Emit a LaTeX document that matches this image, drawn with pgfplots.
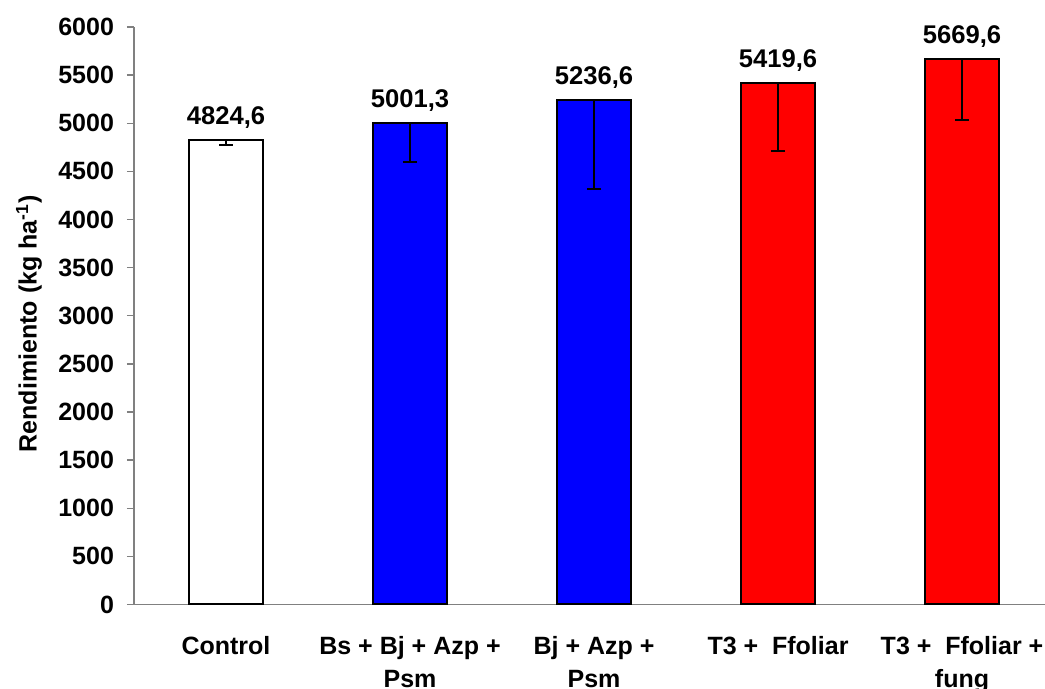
\documentclass[border=0pt]{standalone}
\usepackage{pgfplots}
\pgfplotsset{compat=1.18}
\usepackage{fontspec}
\setmainfont{Liberation Sans}
\definecolor{axgray}{RGB}{128,128,128}
\begin{document}
\begin{tikzpicture}
\useasboundingbox (-67pt,-42.25pt) rectangle (455.5pt,302.25pt);
\begin{axis}[
  scale only axis,
  width=455.5pt, height=288.75pt,
  xmin=-0.5, xmax=4.451,
  ymin=0, ymax=6000,
  ytick={0,500,...,6000},
  xtick={0,1,2,3,4},
  xticklabels={Control, {Bs + Bj + Azp +\\Psm}, {Bj + Azp +\\Psm}, {T3 +\ \ Ffoliar}, {T3 +\ \ Ffoliar +\\fung}},
  minor xtick={-0.5,0.5,1.5,2.5,3.5},
  axis x line=bottom, axis y line=left,
  axis line style={axgray, line width=0.8pt, -},
  x axis line style={-}, y axis line style={-},
  tick align=outside,
  major tick length=3.5pt,
  x tick style={draw=none},
  y tick style={axgray, line width=0.7pt},
  minor x tick style={axgray, line width=0.7pt},
  minor tick length=4.5pt,
  /pgf/number format/assume math mode=true,
  /pgf/number format/1000 sep={},
  ticklabel style={font=\fontsize{12.5}{16.2}\selectfont\bfseries},
  xticklabel style={align=center, yshift=-9pt},
  yticklabel style={xshift=-3pt},
  ylabel={Rendimiento (kg ha\textsuperscript{-1})},
  ylabel style={font=\fontsize{12.5}{14}\selectfont\bfseries, at={(axis description cs:0,0.486)}, yshift=52.5pt, anchor=center},
  ybar, bar width=37pt,
  nodes near coords,
  every node near coord/.append style={font=\fontsize{12.8}{14}\selectfont\bfseries, yshift=2pt, /pgf/number format/fixed, /pgf/number format/fixed zerofill, /pgf/number format/precision=1, /pgf/number format/use comma, /pgf/number format/1000 sep={}},
  error bars/y dir=minus, error bars/y explicit,
  error bars/error bar style={black, line width=1pt},
  error bars/error mark options={black, line width=1pt, mark size=3.5pt, rotate=90},
  clip=false,
]
\addplot[bar shift=0pt, fill=white, draw=black, line width=1pt] coordinates {(0,4824.6) -= (0,50)};
\addplot[bar shift=0pt, fill=blue, draw=black, line width=1pt] coordinates {(1,5001.3) -= (0,400) (2,5236.6) -= (0,925)};
\addplot[bar shift=0pt, fill=red, draw=black, line width=1pt] coordinates {(3,5419.6) -= (0,710) (4,5669.6) -= (0,635)};
\end{axis}
\end{tikzpicture}
\end{document}
